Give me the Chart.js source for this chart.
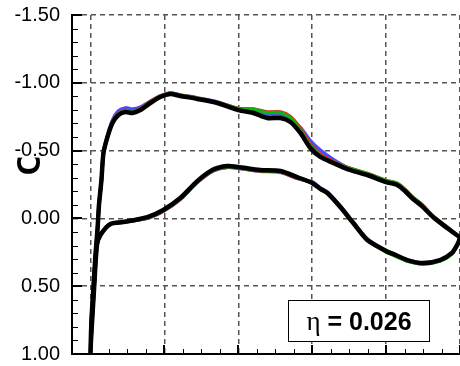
<!DOCTYPE html>
<html>
<head>
<meta charset="utf-8">
<script src="https://cdn.jsdelivr.net/npm/chart.js@4.4.0/dist/chart.umd.min.js"></script>
<style>
  html, body { margin: 0; padding: 0; background: #fff; overflow: hidden; }
  #wrap { width: 460px; height: 366px; }
</style>
</head>
<body>
<div id="wrap"><canvas id="cp" width="460" height="366"></canvas></div>
<script>
// Chordwise stations x/c: lower surface from trailing edge to leading edge, then upper surface back to the trailing edge
const xc = [
  1.000, 0.995, 0.978, 0.946, 0.900, 0.857, 0.819, 0.800, 0.749, 0.711,
  0.676, 0.641, 0.622, 0.600, 0.559, 0.514, 0.459, 0.400, 0.370, 0.332,
  0.289, 0.243, 0.197, 0.154, 0.089, 0.054, 0.027, 0.0176, 0.0095, 0.0014,
  0.000,
  0.0027, 0.0081, 0.0135, 0.0189, 0.023, 0.0297, 0.0351, 0.0459, 0.0595, 0.0757,
  0.0946, 0.1135, 0.135, 0.162, 0.189, 0.216, 0.243, 0.289, 0.343, 0.400,
  0.441, 0.478, 0.514, 0.541, 0.568, 0.595, 0.622, 0.657, 0.695, 0.749,
  0.800, 0.830, 0.851, 0.873, 0.897, 0.927, 0.965, 1.000
];

// Pressure coefficient, one list per case
const cpBlack = [
  0.140, 0.181, 0.255, 0.307, 0.329, 0.307, 0.262, 0.240, 0.159, 0.034,
  -0.084, -0.187, -0.217, -0.261, -0.305, -0.350, -0.357, -0.379, -0.386, -0.360,
  -0.275, -0.150, -0.062, -0.010, 0.027, 0.041, 0.122, 0.196, 0.528, 0.897,
  1.000,
  0.749, 0.506, 0.270, 0.086, -0.099, -0.283, -0.482, -0.600, -0.704, -0.763,
  -0.785, -0.777, -0.799, -0.851, -0.895, -0.917, -0.903, -0.881, -0.851, -0.799,
  -0.777, -0.740, -0.740, -0.711, -0.630, -0.519, -0.453, -0.409, -0.364, -0.320,
  -0.268, -0.246, -0.202, -0.143, -0.091, -0.010, 0.071, 0.140
];
const cpRed = [
  0.145, 0.186, 0.260, 0.312, 0.334, 0.312, 0.267, 0.245, 0.154, 0.029,
  -0.089, -0.192, -0.222, -0.266, -0.297, -0.342, -0.349, -0.371, -0.378, -0.352,
  -0.267, -0.142, -0.054, -0.002, 0.027, 0.041, 0.122, 0.196, 0.528, 0.897,
  1.000,
  0.749, 0.506, 0.270, 0.086, -0.099, -0.283, -0.482, -0.600, -0.712, -0.775,
  -0.797, -0.789, -0.811, -0.863, -0.901, -0.923, -0.909, -0.887, -0.857, -0.811,
  -0.807, -0.785, -0.785, -0.751, -0.665, -0.549, -0.473, -0.421, -0.376, -0.332,
  -0.280, -0.258, -0.214, -0.155, -0.103, -0.018, 0.063, 0.140
];
const cpGreen = [
  0.148, 0.189, 0.263, 0.315, 0.337, 0.315, 0.270, 0.248, 0.159, 0.034,
  -0.084, -0.187, -0.217, -0.261, -0.300, -0.345, -0.352, -0.374, -0.381, -0.355,
  -0.270, -0.145, -0.057, -0.005, 0.027, 0.041, 0.122, 0.196, 0.528, 0.897,
  1.000,
  0.749, 0.506, 0.270, 0.086, -0.099, -0.283, -0.482, -0.600, -0.709, -0.771,
  -0.793, -0.785, -0.807, -0.859, -0.899, -0.921, -0.907, -0.885, -0.855, -0.809,
  -0.805, -0.780, -0.780, -0.741, -0.650, -0.534, -0.463, -0.415, -0.374, -0.330,
  -0.278, -0.256, -0.212, -0.153, -0.101, -0.016, 0.065, 0.140
];
const cpBlue = [
  0.140, 0.181, 0.255, 0.307, 0.329, 0.307, 0.262, 0.240, 0.151, 0.026,
  -0.092, -0.195, -0.225, -0.269, -0.295, -0.340, -0.347, -0.369, -0.376, -0.350,
  -0.265, -0.140, -0.052, 0.000, 0.027, 0.041, 0.122, 0.196, 0.528, 0.897,
  1.000,
  0.749, 0.506, 0.270, 0.086, -0.099, -0.283, -0.482, -0.610, -0.724, -0.793,
  -0.815, -0.807, -0.821, -0.863, -0.903, -0.925, -0.911, -0.889, -0.859, -0.807,
  -0.792, -0.760, -0.760, -0.731, -0.670, -0.574, -0.503, -0.434, -0.376, -0.326,
  -0.274, -0.252, -0.208, -0.149, -0.097, -0.014, 0.067, 0.140
];

// Axis ticks
const xTicks = [0, 0.2, 0.4, 0.6, 0.8, 1.0];
const xMinor = [0.05, 0.1, 0.15, 0.25, 0.3, 0.35, 0.45, 0.5, 0.55, 0.65, 0.7, 0.75, 0.85, 0.9, 0.95];
const yTicks = [-1.5, -1.0, -0.5, 0, 0.5, 1.0];
const yMinor = [-1.4, -1.3, -1.2, -1.1, -0.9, -0.8, -0.7, -0.6, -0.4, -0.3, -0.2, -0.1,
                0.1, 0.2, 0.3, 0.4, 0.6, 0.7, 0.8, 0.9];

// Axis title and case label
const yTitle = 'C';
const etaSymbol = '\u03B7';
const etaValue = '0.026';

const pts = cp => xc.map((x, i) => ({ x: x, y: cp[i] }));

// Rotated axis title, painted first so the tick-label backdrops sit over it
const titlePlugin = {
  id: 'yTitle',
  beforeDraw(chart) {
    const ctx = chart.ctx;
    ctx.save();
    ctx.translate(31, 163);
    ctx.rotate(-Math.PI / 2);
    ctx.font = 'bold 34px "Liberation Sans", Arial, sans-serif';
    ctx.fillStyle = '#000';
    ctx.textAlign = 'center';
    ctx.textBaseline = 'middle';
    ctx.fillText(yTitle, 0, 0);
    ctx.restore();
  }
};

// Inward tick marks on the left and bottom axes
const tickPlugin = {
  id: 'inTicks',
  beforeDatasetsDraw(chart) {
    const ctx = chart.ctx;
    const xs = chart.scales.x, ys = chart.scales.y;
    const left = chart.chartArea.left, bottom = chart.chartArea.bottom;
    ctx.save();
    ctx.strokeStyle = '#000';
    const mark = (x1, y1, x2, y2, w) => {
      ctx.lineWidth = w;
      ctx.beginPath(); ctx.moveTo(x1, y1); ctx.lineTo(x2, y2); ctx.stroke();
    };
    yTicks.forEach(v => { const p = Math.round(ys.getPixelForValue(v)); mark(left, p, left + 10, p, 2); });
    yMinor.forEach(v => { const p = Math.round(ys.getPixelForValue(v)) + 0.5; mark(left, p, left + 6, p, 1); });
    xTicks.forEach(v => { const p = Math.round(xs.getPixelForValue(v)); mark(p, bottom, p, bottom - 9, 2); });
    xMinor.forEach(v => { const p = Math.round(xs.getPixelForValue(v)) + 0.5; mark(p, bottom, p, bottom - 5, 1); });
    ctx.restore();
  }
};

// Boxed case label in the lower right corner
const labelPlugin = {
  id: 'etaBox',
  afterDraw(chart) {
    const ctx = chart.ctx;
    const ca = chart.chartArea;
    const bx = ca.right - 172, by = ca.bottom - 54, bw = 142, bh = 42;
    ctx.save();
    ctx.fillStyle = '#fff';
    ctx.fillRect(bx, by, bw, bh);
    ctx.strokeStyle = '#000';
    ctx.lineWidth = 1;
    ctx.strokeRect(bx + 0.5, by + 0.5, bw - 1, bh - 1);
    const f1 = '27px "Liberation Serif", "Times New Roman", serif';
    const f2 = 'bold 25px "Liberation Sans", Arial, sans-serif';
    const rest = ' = ' + etaValue;
    ctx.font = f1; const w1 = ctx.measureText(etaSymbol).width;
    ctx.font = f2; const w2 = ctx.measureText(rest).width;
    let x = bx + (bw - w1 - w2) / 2;
    const base = by + 30;
    ctx.fillStyle = '#000';
    ctx.textBaseline = 'alphabetic';
    ctx.textAlign = 'left';
    ctx.font = f1; ctx.fillText(etaSymbol, x, base);
    ctx.font = f2; ctx.fillText(rest, x + w1, base);
    ctx.restore();
  }
};

const lineSet = (label, cp, color, width) => ({
  label: label,
  data: pts(cp),
  borderColor: color,
  backgroundColor: color,
  borderWidth: width,
  pointRadius: 0,
  fill: false,
  tension: 0.25,
  borderCapStyle: 'round',
  borderJoinStyle: 'round'
});

new Chart(document.getElementById('cp'), {
  type: 'line',
  data: {
    datasets: [
      lineSet('case 1', cpBlack, '#000000', 4.5),
      lineSet('case 2', cpGreen, '#12b012', 3.5),
      lineSet('case 3', cpRed, '#e8261c', 3.5),
      lineSet('case 4', cpBlue, '#4a4cff', 3.5)
    ]
  },
  options: {
    responsive: false,
    animation: false,
    devicePixelRatio: 1,
    layout: { padding: { top: 15, right: 0, bottom: 0, left: 0 } },
    plugins: { legend: { display: false }, tooltip: { enabled: false } },
    scales: {
      x: {
        type: 'linear',
        min: -0.05,
        max: 1.0,
        afterBuildTicks: s => { s.ticks = xTicks.map(v => ({ value: v })); },
        afterFit: s => { s.height = 12; s.paddingLeft = 0; s.paddingRight = 0; },
        ticks: { display: false },
        grid: { color: '#555', lineWidth: 1.5, drawTicks: false },
        border: { display: true, color: '#000', width: 2, dash: [5, 4] }
      },
      y: {
        type: 'linear',
        reverse: true,
        min: -1.5,
        max: 1.0,
        afterBuildTicks: s => { s.ticks = yTicks.map(v => ({ value: v })); },
        afterFit: s => { s.width = 72; s.paddingTop = 0; s.paddingBottom = 0; },
        ticks: {
          color: '#000',
          font: { family: '"Liberation Sans", Arial, sans-serif', size: 20 },
          padding: 12,
          callback: v => Number(v).toFixed(2),
          showLabelBackdrop: true,
          backdropColor: '#fff',
          backdropPadding: { top: -4, bottom: -5, left: 1, right: 1 }
        },
        grid: { color: '#555', lineWidth: 1.5, drawTicks: false },
        border: { display: true, color: '#000', width: 2, dash: [5, 4] }
      }
    }
  },
  plugins: [titlePlugin, tickPlugin, labelPlugin]
});
</script>
</body>
</html>
